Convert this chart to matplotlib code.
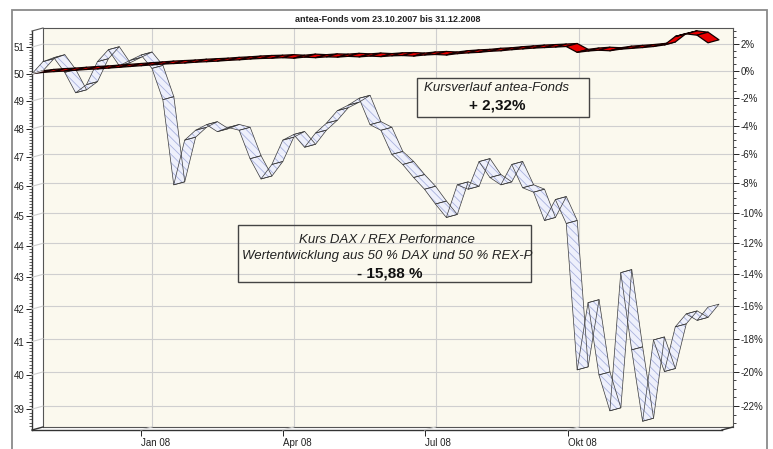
import numpy as np
import pandas as pd
import matplotlib
matplotlib.use('Agg')
import matplotlib.pyplot as plt
import matplotlib.dates as mdates
from matplotlib.collections import PolyCollection
from matplotlib.patches import Rectangle
from matplotlib.lines import Line2D
from matplotlib.transforms import IdentityTransform
from matplotlib.ticker import FixedLocator, NullFormatter

plt.rcParams['font.family'] = ['Liberation Sans', 'DejaVu Sans']
plt.rcParams['hatch.linewidth'] = 0.6

# weekly values, start 23.10.2007
dates = pd.date_range('2007-10-23', periods=63, freq='7D')
daxRex = [50.0, 50.45, 50.6, 50.05, 49.3, 49.6, 50.45, 50.9, 50.3, 50.5,
          50.7, 50.2, 49.05, 46.05, 47.6, 47.95, 48.15, 47.9, 48.05, 47.95,
          46.95, 46.25, 46.75, 47.6, 47.8, 47.35, 47.85, 48.2, 48.65, 48.85,
          49.1, 48.15, 47.95, 47.1, 46.75, 46.3, 45.9, 45.4, 44.95, 46.05,
          45.9, 46.85, 46.3, 46.05, 46.75, 45.95, 45.8, 44.85, 45.55, 44.75,
          40.15, 42.2, 40.0, 38.95, 43.15, 40.75, 38.65, 41.05, 40.1, 41.45,
          41.85, 41.65, 42.06]
antea = [50.00, 50.05, 50.08, 50.10, 50.13, 50.16, 50.18, 50.21, 50.24, 50.27,
         50.30, 50.33, 50.36, 50.38, 50.40, 50.43, 50.45, 50.47, 50.50, 50.52,
         50.55, 50.57, 50.58, 50.60, 50.58, 50.62, 50.60, 50.63, 50.62, 50.65,
         50.63, 50.66, 50.64, 50.67, 50.68, 50.66, 50.70, 50.72, 50.70, 50.75,
         50.78, 50.80, 50.84, 50.86, 50.90, 50.93, 50.96, 50.98, 51.00, 51.02,
         50.80, 50.85, 50.88, 50.86, 50.92, 50.95, 50.98, 51.02, 51.08, 51.40,
         51.50, 51.45, 51.16]

yticks = list(range(39, 52))
pct_labels = ['%d%%' % ((v - 50) * 2) for v in yticks]
xtick_dates = pd.to_datetime(['2008-01-01', '2008-04-01', '2008-07-01', '2008-10-01'])
xtick_labels = ['Jan 08', 'Apr 08', 'Jul 08', 'Okt 08']

W, H = 773, 449
DX, DY = 11, 3  # depth of the 3d effect in pixels

def fx(px):
    return px / W

def fy(py):
    return 1 - py / H

fig = plt.figure(figsize=(W / 100, H / 100), dpi=100)
fig.patch.set_facecolor('white')

# outer frame
fig.add_artist(Rectangle((fx(12), fy(452)), fx(767) - fx(12), fy(10) - fy(452),
                         transform=fig.transFigure, fill=False, edgecolor='#8a8a8a', lw=1.3))

xlim = (mdates.date2num(pd.Timestamp('2007-10-23')), mdates.date2num(pd.Timestamp('2009-01-08')))
ylim = (38.40, 51.61)

# back wall
ax = fig.add_axes([fx(43), fy(427), (733 - 43) / W, (427 - 28) / H])
ax.set_facecolor('#fbf9ee')
ax.set_yscale('log')
ax.set_xlim(xlim)
ax.set_ylim(ylim)
ax.yaxis.set_major_locator(FixedLocator(yticks))
ax.yaxis.set_minor_locator(FixedLocator(np.arange(38.5, 51.6, 0.25)))
ax.yaxis.set_minor_formatter(NullFormatter())
ax.set_yticklabels(pct_labels)
ax.yaxis.tick_right()
ax.tick_params(axis='y', which='major', length=4, width=0.7, pad=1.5, labelsize=7, colors='#222')
ax.tick_params(axis='y', which='minor', length=2, width=0.6, colors='#222')
ax.set_xticks(mdates.date2num(xtick_dates))
ax.tick_params(axis='x', length=0, labelbottom=False)
ax.grid(True, which='major', color='#cfcfcf', lw=0.8)
for s in ax.spines.values():
    s.set_color('#555555')
    s.set_linewidth(0.8)

# front axes with the left and bottom scales
axf = fig.add_axes([fx(32), fy(430), (722 - 32) / W, (430 - 31) / H])
axf.patch.set_visible(False)
axf.set_yscale('log')
axf.set_xlim(xlim)
axf.set_ylim(ylim)
axf.yaxis.set_major_locator(FixedLocator(yticks))
axf.yaxis.set_minor_locator(FixedLocator(np.arange(38.5, 51.6, 0.1)))
axf.yaxis.set_minor_formatter(NullFormatter())
axf.set_yticklabels([str(v) for v in yticks])
axf.tick_params(axis='y', which='major', length=4, width=0.7, pad=1.5, labelsize=7, colors='#222')
axf.tick_params(axis='y', which='minor', length=2, width=0.5, colors='#222')
axf.set_xticks(mdates.date2num(xtick_dates))
axf.set_xticklabels(xtick_labels, ha='left')
axf.tick_params(axis='x', length=4, width=0.7, pad=2, labelsize=7, colors='#222')
for side in ['top', 'right']:
    axf.spines[side].set_visible(False)
for side in ['left', 'bottom']:
    axf.spines[side].set_color('#333333')
    axf.spines[side].set_linewidth(1.0)

# slanted side lines joining front scale and back wall
def side_line(x0, y0, color, lw):
    fig.add_artist(Line2D([fx(x0), fx(x0 + DX)], [fy(y0), fy(y0 - DY)],
                          transform=fig.transFigure, color=color, lw=lw))

for v in yticks:
    px, py = axf.transData.transform((xlim[0], v))
    side_line(32, H - py, '#cfcfcf', 0.8)
for d in mdates.date2num(xtick_dates):
    px, py = axf.transData.transform((d, ylim[0]))
    side_line(px, 430, '#cfcfcf', 0.8)
side_line(32, 31, '#555555', 0.8)
side_line(32, 430, '#333333', 1.0)
side_line(722, 430, '#333333', 1.0)

# ribbons
def ribbon(values):
    pts = axf.transData.transform(np.column_stack([mdates.date2num(dates), values]))
    polys = []
    for i in range(len(pts) - 1):
        p0, p1 = pts[i], pts[i + 1]
        polys.append([p0, p1, p1 + (DX, DY), p0 + (DX, DY)])
    return polys

dax_polys = ribbon(daxRex)
fill = PolyCollection(dax_polys, transform=IdentityTransform(), facecolor='#eef0fb',
                      edgecolor='#aab2df', hatch='\\\\\\\\', linewidth=0)
fill.set_clip_on(False)
axf.add_collection(fill, autolim=False)
edges = PolyCollection(dax_polys, transform=IdentityTransform(), facecolor='none',
                       edgecolor='#3a3a3a', linewidth=0.5)
edges.set_clip_on(False)
axf.add_collection(edges, autolim=False)

red = PolyCollection(ribbon(antea), transform=IdentityTransform(), facecolor='#e80000',
                     edgecolor='#140000', linewidth=0.9)
red.set_clip_on(False)
axf.add_collection(red, autolim=False)

# title
fig.text(fx(388), fy(19), 'antea-Fonds vom 23.10.2007 bis 31.12.2008', ha='center', va='center',
         fontsize=6.5, fontweight='bold', color='#222')

# text boxes
fig.add_artist(Rectangle((fx(417), fy(117)), fx(589) - fx(417), fy(78) - fy(117),
                         transform=fig.transFigure, facecolor='#fbf9ee', edgecolor='#444444', lw=1.0))
fig.text(fx(497), fy(88), 'Kursverlauf antea-Fonds', ha='center', va='center',
         fontsize=9.5, style='italic', color='#222')
fig.text(fx(497), fy(105), '+ 2,32%', ha='center', va='center',
         fontsize=11, fontweight='bold', color='#111')

fig.add_artist(Rectangle((fx(238), fy(282)), fx(531) - fx(238), fy(225) - fy(282),
                         transform=fig.transFigure, fill=False, edgecolor='#444444', lw=1.0))
fig.text(fx(387), fy(240), 'Kurs DAX / REX Performance', ha='center', va='center',
         fontsize=9.5, style='italic', color='#222')
fig.text(fx(387), fy(256), 'Wertentwicklung aus 50 % DAX und 50 % REX-P', ha='center', va='center',
         fontsize=9.5, style='italic', color='#222')
fig.text(fx(390), fy(273), '- 15,88 %', ha='center', va='center',
         fontsize=11, fontweight='bold', color='#111')

fig.savefig('out.png', dpi=100)
